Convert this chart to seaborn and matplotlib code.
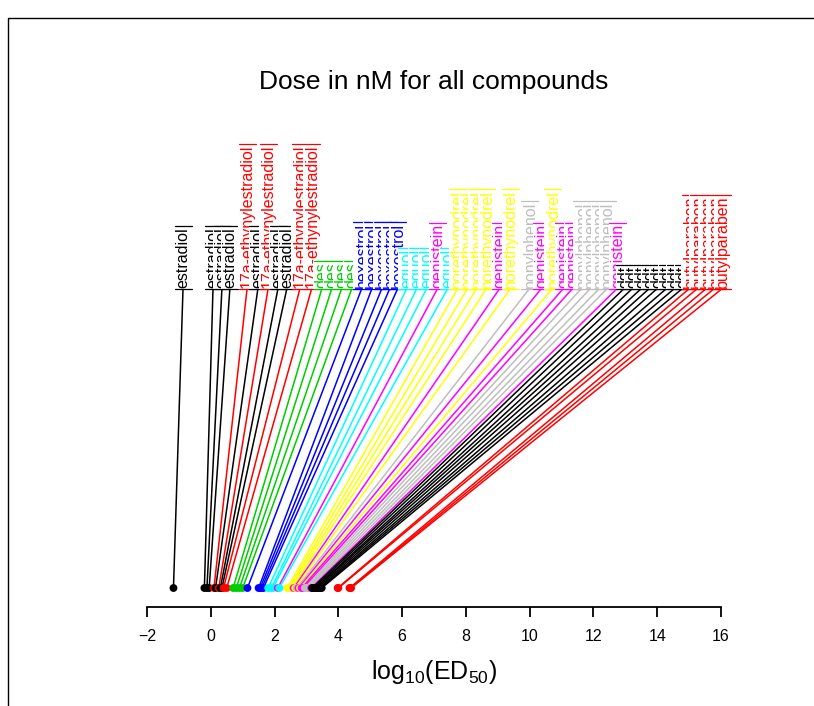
import pandas as pd
import seaborn as sns
import matplotlib.pyplot as plt
from matplotlib.patches import Rectangle

# compound of each label, left to right
compounds = (['estradiol'] * 4 + ['17a-ethynylestradiol', 'estradiol', '17a-ethynylestradiol',
              'estradiol', 'estradiol', '17a-ethynylestradiol', '17a-ethynylestradiol']
             + ['des'] * 4 + ['hexestrol'] * 5
             + ['equol'] * 3 + ['genistein', 'equol']
             + ['norethynodrel'] * 4 + ['genistein', 'norethynodrel', 'nonylphenol', 'genistein',
                                        'norethynodrel', 'genistein', 'genistein']
             + ['nonylphenol'] * 4 + ['genistein'] + ['ddt'] * 8 + ['butylparaben'] * 5)

# log10(ED50) of each dose point
log_ed50 = [-1.17, -0.2, -0.12, -0.05, 0.1, 0.15, 0.25, 0.3, 0.35, 0.4, 0.5,
            0.7, 0.8, 0.9, 1.0,
            1.15, 1.5, 1.55, 1.6, 1.65,
            1.8, 1.9, 1.95, 2.1, 2.15,
            2.4, 2.45, 2.5, 2.55, 2.6, 2.65, 2.7, 2.75, 2.8, 2.85, 2.9,
            2.95, 3.0, 3.05, 3.1, 3.15,
            3.18, 3.22, 3.27, 3.3, 3.35, 3.4, 3.44, 3.48,
            3.98, 4.0, 4.35, 4.38, 4.4]

# where each label sits along the x axis
label_x = [-0.87, 0.07, 0.35, 0.60, 1.14, 1.48, 1.80, 2.11, 2.39, 2.80, 3.17,
           3.49, 3.80, 4.11, 4.43,
           4.74, 5.06, 5.37, 5.62, 5.87,
           6.15, 6.47, 6.78, 7.12, 7.44,
           7.75, 8.06, 8.35, 8.66, 9.07, 9.41, 10.01, 10.38, 10.73, 11.07, 11.36,
           11.64, 11.92, 12.20, 12.45, 12.76,
           12.98, 13.24, 13.52, 13.77, 14.02, 14.31, 14.56, 14.81,
           15.03, 15.28, 15.56, 15.81, 16.06]

palette = {'estradiol': 'black', '17a-ethynylestradiol': '#FF0000', 'des': '#00CD00',
           'hexestrol': '#0000FF', 'equol': '#00FFFF', 'genistein': '#FF00FF',
           'norethynodrel': '#FFFF00', 'nonylphenol': '#BEBEBE', 'ddt': 'black',
           'butylparaben': '#FF0000'}

df = pd.DataFrame({'compound': compounds, 'log_ed50': log_ed50, 'label_x': label_x})
df['y'] = 0.0

sns.set_style('white')
plt.rcParams['font.family'] = ['Liberation Sans', 'DejaVu Sans']

fig = plt.figure(figsize=(8.14, 7.06), dpi=100)
ax = fig.add_axes([147 / 814, 99 / 706, 574 / 814, 499 / 706])

# leader lines from each dose to its label
for _, row in df.iterrows():
    ax.plot([row['log_ed50'], row['label_x']], [0, 1], color=palette[row['compound']], lw=1.1, zorder=1)

sns.scatterplot(data=df, x='log_ed50', y='y', hue='compound', palette=palette,
                s=32, edgecolor='none', legend=False, ax=ax, zorder=2)

ax.set_xlim(-2, 16)
ax.set_ylim(-0.0633, 1.6)

labels = []
for i, row in df.iterrows():
    c = palette[row['compound']]
    t = ax.text(row['label_x'], 1.0, row['compound'], rotation=90, ha='center', va='bottom',
                color=c, fontsize=11.5, clip_on=False, zorder=3 + 0.01 * i,
                bbox=dict(boxstyle='square,pad=0.08', fc='white', ec='none'))
    labels.append(t)

# R-style rules at both ends of every label
fig.canvas.draw()
renderer = fig.canvas.get_renderer()
inv = ax.transData.inverted()
for i, t in enumerate(labels):
    bb = t.get_window_extent(renderer)
    (x0, y0), (x1, y1) = inv.transform([(bb.x0 - 1, bb.y0 - 1), (bb.x1 + 1, bb.y1 + 1)])
    c = t.get_color()
    for yy in (y0, y1):
        ax.plot([x0, x1], [yy, yy], color=c, lw=0.9, zorder=3 + 0.01 * i + 0.005, clip_on=False)

ax.set_xticks(range(-2, 17, 2))
ax.set_yticks([])
ax.set_xlabel('')
ax.set_ylabel('')
for s in ['left', 'right', 'top']:
    ax.spines[s].set_visible(False)
ax.spines['bottom'].set_linewidth(1.3)
ax.spines['bottom'].set_color('black')
ax.tick_params(axis='x', direction='out', length=7, width=1.3, labelsize=11.5, pad=9,
               bottom=True, colors='black')

fig.text(434 / 814, 1 - 82 / 706, 'Dose in nM for all compounds', ha='center', va='center',
         fontsize=19, color='black')
fig.text(434 / 814, 1 - 672 / 706, r'$\mathregular{log_{10}(ED_{50})}$', ha='center', va='center',
         fontsize=18, color='black')

fig.patches.append(Rectangle((8 / 814, -0.05), 1.2, 1.05 - 18 / 706, transform=fig.transFigure,
                             fill=False, ec='black', lw=1))

fig.savefig('out.png', dpi=100)
